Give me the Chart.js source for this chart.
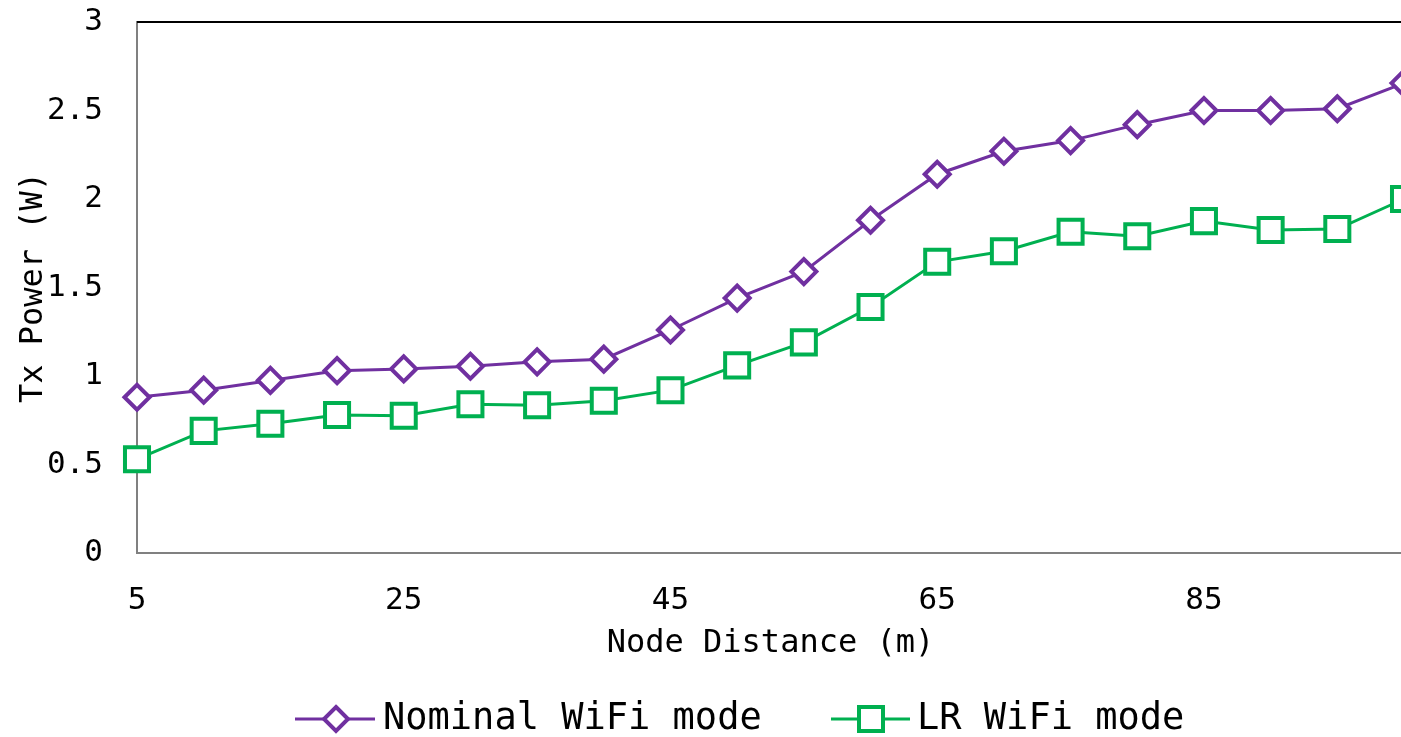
<!DOCTYPE html>
<html>
<head>
<meta charset="utf-8">
<script src="https://cdn.jsdelivr.net/npm/chart.js@4.4.0/dist/chart.umd.min.js"></script>
<style>
  html, body { margin: 0; padding: 0; background: #fff; overflow: hidden; }
  #wrap { width: 1406px; height: 737px; }
</style>
</head>
<body>
<div id="wrap"><canvas id="txPower" width="1406" height="737"></canvas></div>
<script>
// distancias (m)
const distances = [5, 10, 15, 20, 25, 30, 35, 40, 45, 50, 55, 60, 65, 70, 75, 80, 85, 90, 95, 100];
// potencia de transmision (W)
const nominalWifi = [0.88, 0.92, 0.975, 1.03, 1.04, 1.055, 1.08, 1.095, 1.26, 1.44, 1.59, 1.88, 2.14, 2.27, 2.33, 2.42, 2.50, 2.50, 2.51, 2.655];
const lrWifi = [0.53, 0.69, 0.73, 0.78, 0.775, 0.84, 0.835, 0.86, 0.92, 1.06, 1.19, 1.39, 1.645, 1.705, 1.815, 1.79, 1.875, 1.825, 1.83, 2.0];
const seriesNames = ['Nominal WiFi mode', 'LR WiFi mode'];
const yTicks = [0, 0.5, 1, 1.5, 2, 2.5, 3];

const purple = '#7030A0';
const green = '#00B050';
const mono = '"DejaVu Sans Mono", monospace';

// dibuja el marco superior y la leyenda con linea + marcador
const extras = {
  id: 'extras',
  afterDraw(chart) {
    const ctx = chart.ctx;
    const a = chart.chartArea;
    ctx.save();
    ctx.strokeStyle = '#000';
    ctx.lineWidth = 2;
    ctx.beginPath();
    ctx.moveTo(a.left, a.top);
    ctx.lineTo(a.right, a.top);
    ctx.lineTo(a.right, a.bottom);
    ctx.stroke();

    const y = 719;
    const items = [
      { x1: 295, x2: 375, mx: 336, tx: 383, color: purple, shape: 'diamond', text: seriesNames[0] },
      { x1: 831, x2: 910, mx: 871, tx: 917, color: green, shape: 'square', text: seriesNames[1] }
    ];
    items.forEach(it => {
      ctx.strokeStyle = it.color;
      ctx.lineWidth = 3;
      ctx.beginPath();
      ctx.moveTo(it.x1, y);
      ctx.lineTo(it.x2, y);
      ctx.stroke();
      ctx.fillStyle = '#fff';
      ctx.lineWidth = 4;
      ctx.beginPath();
      if (it.shape === 'diamond') {
        ctx.moveTo(it.mx, y - 12);
        ctx.lineTo(it.mx + 12, y);
        ctx.lineTo(it.mx, y + 12);
        ctx.lineTo(it.mx - 12, y);
        ctx.closePath();
      } else {
        ctx.rect(it.mx - 12, y - 12, 24, 24);
      }
      ctx.fill();
      ctx.stroke();
      ctx.fillStyle = '#000';
      ctx.font = '37px ' + mono;
      ctx.textBaseline = 'middle';
      ctx.textAlign = 'left';
      ctx.fillText(it.text, it.tx, y);
    });
    ctx.restore();
  }
};

const config = {
  type: 'line',
  data: {
    labels: distances,
    datasets: [{
      label: seriesNames[0],
      data: nominalWifi,
      borderColor: purple,
      borderWidth: 3,
      pointStyle: 'rectRot',
      pointRadius: 12.5,
      pointBorderWidth: 4,
      pointBackgroundColor: '#fff',
      pointBorderColor: purple,
      tension: 0
    }, {
      label: seriesNames[1],
      data: lrWifi,
      borderColor: green,
      borderWidth: 3,
      pointStyle: 'rect',
      pointRadius: 17,
      pointBorderWidth: 4,
      pointBackgroundColor: '#fff',
      pointBorderColor: green,
      tension: 0
    }]
  },
  options: {
    responsive: false,
    animation: false,
    layout: { autoPadding: false, padding: { top: 22, right: 2, bottom: 74, left: 0 } },
    plugins: {
      legend: { display: false },
      tooltip: { enabled: false }
    },
    scales: {
      x: {
        type: 'category',
        offset: false,
        grid: { display: false, drawTicks: false },
        border: { display: true, color: '#808080', width: 2 },
        ticks: {
          autoSkip: false,
          maxRotation: 0,
          padding: 29,
          color: '#000',
          font: { family: mono, size: 31 },
          callback: function (val, i) { return i % 4 === 0 ? String(distances[i]) : ''; }
        },
        title: {
          display: true,
          text: 'Node Distance (m)',
          color: '#000',
          font: { family: mono, size: 32 },
          padding: { top: 0, bottom: 0 }
        },
        afterFit: s => { s.height = 110; s.paddingLeft = 0; s.paddingRight = 0; }
      },
      y: {
        min: 0,
        max: 3,
        afterBuildTicks: s => { s.ticks = yTicks.map(v => ({ value: v })); },
        grid: { display: false, drawTicks: false },
        border: { display: true, color: '#808080', width: 2 },
        ticks: {
          padding: 34,
          color: '#000',
          font: { family: mono, size: 31 },
          callback: v => String(v)
        },
        title: {
          display: true,
          text: 'Tx Power (W)',
          color: '#000',
          font: { family: mono, size: 32 },
          padding: { top: 14, bottom: 0 }
        },
        afterFit: s => { s.width = 137; s.paddingTop = 0; s.paddingBottom = 0; }
      }
    }
  },
  plugins: [extras]
};

window.txChart = new Chart(document.getElementById('txPower'), config);
</script>
</body>
</html>
